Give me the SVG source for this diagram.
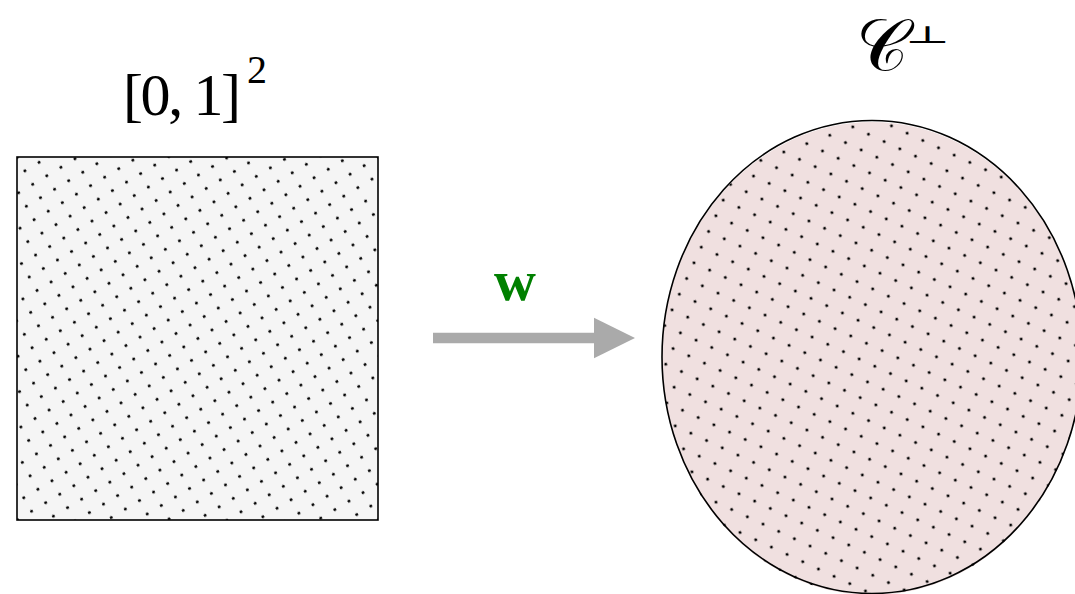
<svg xmlns="http://www.w3.org/2000/svg" width="1075" height="594" viewBox="0 0 1075 594">
  <style>
    .lbl { font-family: "Liberation Serif", "DejaVu Serif", serif; fill: #000; }
    .edge { stroke: #000; stroke-width: 1.6; fill: none; }
  </style>
  <defs>
    <pattern id="dotsSquare" patternUnits="userSpaceOnUse" width="16.46" height="15.52"
             patternTransform="matrix(0.8566 -0.5164 0.5006 0.8660 28.07 159.83)">
      <circle cx="8.23" cy="7.76" r="1.5" fill="#000"/>
    </pattern>
    <pattern id="dotsEllipse" patternUnits="userSpaceOnUse" width="17.3" height="17.3"
             patternTransform="translate(880 130) rotate(25)">
      <circle cx="8.65" cy="8.65" r="1.5" fill="#000"/>
    </pattern>
    <marker id="arrowHead" markerUnits="userSpaceOnUse" markerWidth="44" markerHeight="42"
            refX="2" refY="20.3" orient="auto" overflow="visible">
      <path d="M0,0 L41,20.3 L0,40.6 Z" fill="#aaaaaa"/>
    </marker>
  </defs>

  <g id="node-square">
    <rect x="17" y="157" width="361" height="363" fill="#f5f5f5"/>
    <rect x="17" y="157" width="361" height="363" fill="url(#dotsSquare)"/>
    <rect x="17" y="157" width="361" height="363" class="edge"/>
    <text class="lbl" x="123" y="115" font-size="60" textLength="118" lengthAdjust="spacing">[0, 1]</text>
    <text class="lbl" x="247" y="83" font-size="40">2</text>
  </g>

  <g id="node-ellipse">
    <ellipse cx="872" cy="358.5" rx="210" ry="236.5" fill="#f0e0e0"/>
    <ellipse cx="872" cy="358.5" rx="210" ry="236.5" fill="url(#dotsEllipse)"/>
    <ellipse cx="872" cy="357" rx="210" ry="236.5" class="edge"/>
    <text class="lbl" x="856" y="70" font-size="72" font-family="DejaVu Serif, DejaVu Sans, serif">𝒞</text>
    <text class="lbl" transform="translate(905 43) scale(1.1 0.55)" x="0" y="0" font-size="44" font-family="DejaVu Serif, DejaVu Sans, serif">⊥</text>
  </g>

  <g id="connectors">
    <line x1="433" y1="338" x2="596" y2="338" stroke="#aaaaaa" stroke-width="10.7" marker-end="url(#arrowHead)"/>
    <text x="515" y="300" text-anchor="middle" font-family="Liberation Serif, DejaVu Serif, serif" font-weight="bold" font-size="58" fill="#008000">w</text>
  </g>
</svg>
